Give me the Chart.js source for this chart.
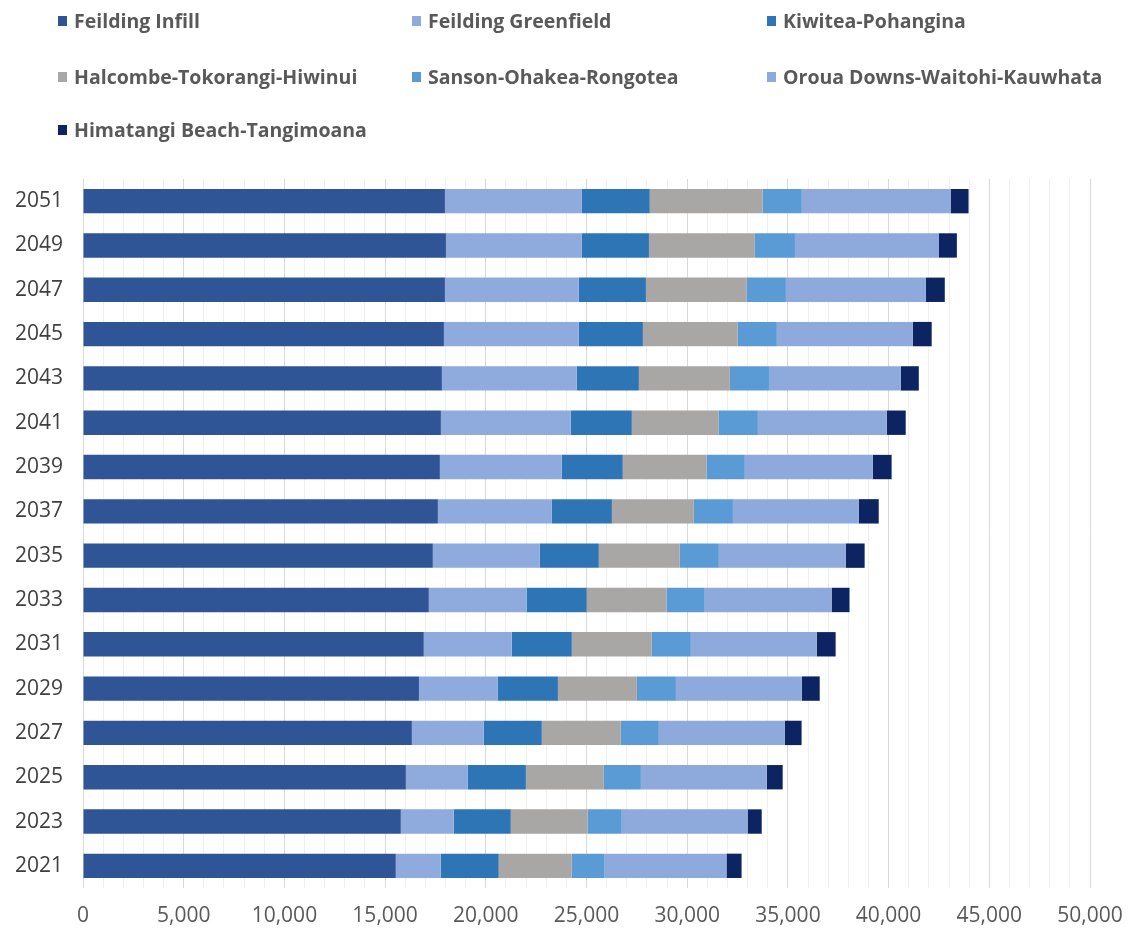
<!DOCTYPE html>
<html><head><meta charset="utf-8">
<script src="https://cdn.jsdelivr.net/npm/chart.js@4.4.1/dist/chart.umd.min.js"></script>
<style>
html,body{margin:0;padding:0;background:#fff;}
#wrap{position:relative;width:1129px;height:936px;overflow:hidden;}
#c{position:absolute;left:0;top:0;}
#legend{position:absolute;left:0;top:0;width:1129px;height:150px;font-family:'Open Sans',sans-serif;font-weight:700;font-size:19.5px;color:#595959;}
.item{position:absolute;display:flex;align-items:center;white-space:nowrap;line-height:22px;transform:translateY(-50%);}
.box{width:9px;height:10px;margin-right:7px;flex:none;}
</style></head>
<body><div id="wrap"><canvas id="c" width="1129" height="936"></canvas><div id="legend"></div></div>
<script>
const years = ['2051','2049','2047','2045','2043','2041','2039','2037','2035','2033','2031','2029','2027','2025','2023','2021'];
const feildingInfill     = [17970,18020,17970,17920,17820,17770,17720,17620,17370,17170,16920,16680,16330,16030,15780,15530];
const feildingGreenfield = [6800,6750,6650,6700,6700,6450,6050,5660,5310,4860,4370,3920,3570,3080,2630,2230];
const kiwiteaPohangina   = [3370,3330,3330,3180,3080,3030,3030,2980,2930,2980,2980,2980,2880,2880,2830,2880];
const halcombe           = [5610,5260,5010,4710,4520,4320,4170,4070,4020,3970,3970,3920,3920,3870,3820,3620];
const sanson             = [1940,1990,1940,1940,1940,1940,1890,1940,1940,1890,1940,1940,1890,1840,1690,1640];
const oroua              = [7390,7150,6950,6750,6550,6400,6350,6250,6300,6300,6250,6250,6250,6250,6250,6050];
const himatangi          = [890,890,940,940,890,940,940,990,940,890,940,890,840,790,700,750];
const seriesNames = ['Feilding Infill','Feilding Greenfield','Kiwitea-Pohangina','Halcombe-Tokorangi-Hiwinui','Sanson-Ohakea-Rongotea','Oroua Downs-Waitohi-Kauwhata','Himatangi Beach-Tangimoana'];
const seriesColors = ['#2F5597','#8FAADC','#2E75B6','#A9A6A6','#5B9BD5','#8EA9DB','#0C2461'];
const seriesValues = [feildingInfill,feildingGreenfield,kiwiteaPohangina,halcombe,sanson,oroua,himatangi];
const xMax = 50000, xMajor = 5000, xMinor = 1000;

const datasets = seriesNames.map((n,i)=>({
  label:n, data:seriesValues[i], backgroundColor:seriesColors[i], borderWidth:0,
  barPercentage:0.55, categoryPercentage:1.0
}));

const tickFont = {family:"'Open Sans', sans-serif", size:21};
new Chart(document.getElementById('c'), {
  type:'bar',
  data:{labels:years, datasets},
  options:{
    indexAxis:'y', responsive:false, animation:false,
    layout:{padding:{top:179, right:39, left:0, bottom:0}},
    plugins:{legend:{display:false}, tooltip:{enabled:false}},
    scales:{
      x:{stacked:true, min:0, max:xMax,
        border:{display:false},
        grid:{drawTicks:false, color:(ctx)=> (ctx.tick && ctx.tick.value % xMajor === 0) ? '#d9d9d9' : '#efefef', lineWidth:1},
        ticks:{stepSize:xMinor, autoSkip:false, maxRotation:0, padding:15, color:'#595959', font:tickFont,
          callback:(v)=> v % xMajor === 0 ? v.toLocaleString('en-US') : ''},
        afterFit:(s)=>{s.height = 48; s.paddingLeft = 0; s.paddingRight = 0;}
      },
      y:{stacked:true,
        border:{display:false},
        grid:{display:false, drawTicks:false},
        ticks:{padding:20, color:'#404040', font:tickFont},
        afterFit:(s)=>{s.width = 83; s.paddingTop = 0; s.paddingBottom = 0;}
      }
    }
  }
});

const cols = [58, 412, 767], rows = [21, 77, 130];
const leg = document.getElementById('legend');
seriesNames.forEach((n,i)=>{
  const it = document.createElement('div');
  it.className='item';
  it.style.left = cols[i%3]+'px';
  it.style.top = rows[Math.floor(i/3)]+'px';
  const b = document.createElement('span'); b.className='box'; b.style.background = seriesColors[i];
  const t = document.createElement('span'); t.textContent = n;
  it.appendChild(b); it.appendChild(t); leg.appendChild(it);
});
</script>
</body></html>
